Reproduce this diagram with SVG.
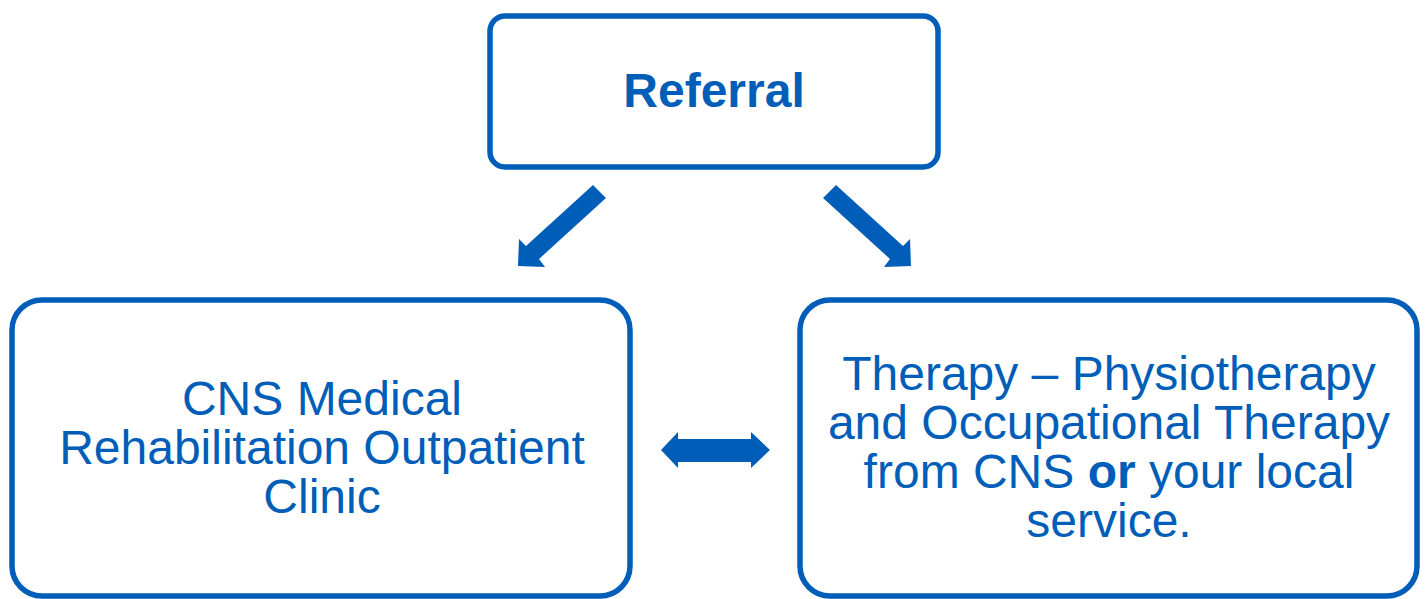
<svg xmlns="http://www.w3.org/2000/svg" width="1427" height="599" viewBox="0 0 1427 599">
<style>
.box{fill:#ffffff;stroke:#005EB8;stroke-width:5.5}
.t{font-family:"Liberation Sans",Arial,sans-serif;font-size:48px;fill:#005EB8;text-anchor:middle}
.arr{fill:#005EB8}
</style>
<rect width="1427" height="599" fill="#ffffff"/>
<g id="referral">
<rect class="box" x="490" y="16" width="448" height="151" rx="15"/>
<text class="t" x="714" y="107" font-weight="bold" font-size="46">Referral</text>
</g>
<g id="clinic">
<rect class="box" x="12" y="300" width="618" height="296" rx="30"/>
<text class="t" x="322" y="415">CNS Medical</text>
<text class="t" x="322" y="464">Rehabilitation Outpatient</text>
<text class="t" x="322" y="513">Clinic</text>
</g>
<g id="therapy">
<rect class="box" x="800" y="300" width="617" height="296" rx="30"/>
<text class="t" x="1109" y="390">Therapy – Physiotherapy</text>
<text class="t" x="1109" y="439">and Occupational Therapy</text>
<text class="t" x="1109" y="488">from CNS <tspan font-weight="bold">or</tspan> your local</text>
<text class="t" x="1109" y="537">service.</text>
</g>
<g id="connectors">
<polygon class="arr" points="593,185 606,198 539,259 545,267 518,266 519,239 526,246"/>
<polygon class="arr" points="836,185 823,198 890,259 884,267 911,266 910,239 903,246"/>
<polygon class="arr" points="661,450 678,432 678,439 751,439 751,432 770,450 751,468 751,462 678,462 678,468"/>
</g>
</svg>
